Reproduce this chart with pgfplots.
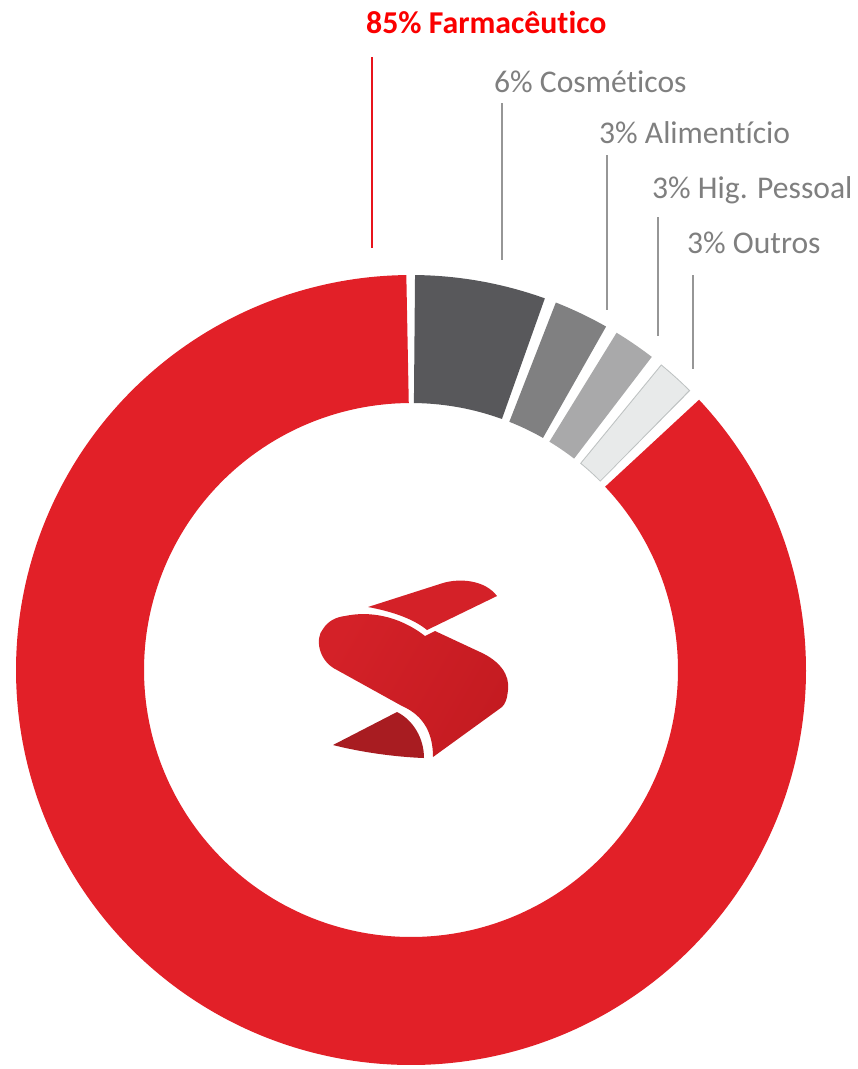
\documentclass[border=0pt]{standalone}
\usepackage{fontspec}
\setmainfont{Carlito}[Ligatures={NoCommon,NoContextual}]
\usepackage{pgfplots}
\pgfplotsset{compat=1.18}
\definecolor{ringred}{RGB}{226,32,40}
\definecolor{cosg}{RGB}{88,88,91}
\definecolor{alig}{RGB}{128,128,129}
\definecolor{higg}{RGB}{169,169,170}
\definecolor{outg}{RGB}{232,234,234}
\definecolor{outb}{RGB}{190,194,194}
\definecolor{labred}{RGB}{250,0,0}
\definecolor{labgray}{RGB}{127,127,127}
\definecolor{linegray}{RGB}{150,150,150}
\definecolor{lineRed}{RGB}{232,20,28}
\definecolor{lgA}{RGB}{212,33,40}
\definecolor{lgB}{RGB}{230,52,46}
\definecolor{lgC}{RGB}{196,27,33}
\definecolor{tailc}{RGB}{168,28,33}
% shares of the circle (percent)
\def\sCos{5.75}
\def\sAli{2.71}
\def\sHig{2.22}
\def\sOut{2.07}
\def\sFar{87.25}
\def\gapH{0.85}
\def\gapT{0.6}
\pgfmathsetmacro\bndA{90-3.6*\sCos}
\pgfmathsetmacro\bndB{\bndA-3.6*\sAli}
\pgfmathsetmacro\bndC{\bndB-3.6*\sHig}
\pgfmathsetmacro\bndD{\bndC-3.6*\sOut}
\pgfmathsetmacro\bndE{\bndD-3.6*\sFar}
\pgfmathsetmacro\farLo{\bndE+\gapT}\pgfmathsetmacro\farHi{\bndD-\gapH}
\pgfmathsetmacro\cosLo{\bndA+\gapH}\pgfmathsetmacro\cosHi{90-\gapT}
\pgfmathsetmacro\aliLo{\bndB+\gapH}\pgfmathsetmacro\aliHi{\bndA-\gapH}
\pgfmathsetmacro\higLo{\bndC+\gapH}\pgfmathsetmacro\higHi{\bndB-\gapH}
\pgfmathsetmacro\outLo{\bndD+\gapH}\pgfmathsetmacro\outHi{\bndC-\gapH}
\pgfmathsetmacro\outLoi{\bndD+\gapH+0.18}\pgfmathsetmacro\outHii{\bndC-\gapH-0.18}
\newcommand{\seg}[5]{%
  \edef\segtmp{\noexpand\addplot[draw=#1, line width=#5, domain=#2:#3, samples=#4, variable=\noexpand\t]}%
  \segtmp ({411+331*cos(t)},{670-331*sin(t)});}
\begin{document}
\begin{tikzpicture}
\path[use as bounding box] (0,0) rectangle (858bp,1069bp);
\begin{axis}[at={(0,0)}, anchor=south west, scale only axis,
  width=858bp, height=1069bp, xmin=0, xmax=858, ymin=0, ymax=1069,
  y dir=reverse, hide axis, clip=false]
\seg{ringred}{\farLo}{\farHi}{361}{128bp}
\seg{cosg}{\cosLo}{\cosHi}{60}{128bp}
\seg{alig}{\aliLo}{\aliHi}{40}{128bp}
\seg{higg}{\higLo}{\higHi}{40}{128bp}
\seg{outb}{\outLo}{\outHi}{40}{128bp}
\seg{outg}{\outLoi}{\outHii}{40}{126bp}
% leader lines
\draw[lineRed, line width=1.3bp] (axis cs:372,57) -- (axis cs:372,248);
\draw[linegray, line width=1.3bp] (axis cs:502,103) -- (axis cs:502,260);
\draw[linegray, line width=1.3bp] (axis cs:607,155) -- (axis cs:607,310);
\draw[linegray, line width=1.3bp] (axis cs:658,217) -- (axis cs:658,336);
\draw[linegray, line width=1.3bp] (axis cs:693,275) -- (axis cs:693,369);
% labels
\node[anchor=base west, inner sep=0, text=labred, font=\fontsize{31.8bp}{38bp}\bfseries\selectfont] at (axis cs:366,33) {85\% Farmacêutico};
\node[anchor=base west, inner sep=0, text=labgray, font=\fontsize{31.6bp}{38bp}\selectfont] at (axis cs:494,92) {6\% Cosméticos};
\node[anchor=base west, inner sep=0, text=labgray, font=\fontsize{31.6bp}{38bp}\selectfont] at (axis cs:599,143) {3\% Alimentício};
\node[anchor=base west, inner sep=0, text=labgray, font=\fontsize{31.6bp}{38bp}\selectfont] at (axis cs:652,198) {3\% Hig. Pessoal};
\node[anchor=base west, inner sep=0, text=labgray, font=\fontsize{31.6bp}{38bp}\selectfont] at (axis cs:687,253) {3\% Outros};
% logo
\fill[lgA] (axis cs:368,607) -- (axis cs:443,583) .. controls (axis cs:460,578) and (axis cs:485,580) .. (axis cs:497,596) -- (axis cs:427,630) .. controls (axis cs:415,620) and (axis cs:395,612) .. (axis cs:368,607) -- cycle;
\shade[left color=lgA, middle color=lgB, right color=lgC, shading angle=60] (axis cs:345,616) .. controls (axis cs:368,611) and (axis cs:398,615) .. (axis cs:425,636) -- (axis cs:435,631) -- (axis cs:480,652) .. controls (axis cs:500,661) and (axis cs:510,675) .. (axis cs:508,690) .. controls (axis cs:507,700) and (axis cs:505,704) .. (axis cs:502,707) -- (axis cs:433,757) .. controls (axis cs:433,735) and (axis cs:425,716) .. (axis cs:402,706) -- (axis cs:337,670) .. controls (axis cs:318,661) and (axis cs:315,638) .. (axis cs:323,629) .. controls (axis cs:328,621) and (axis cs:336,617) .. (axis cs:345,616) -- cycle;
\fill[tailc] (axis cs:333,745) -- (axis cs:397,712) .. controls (axis cs:413,720) and (axis cs:424,738) .. (axis cs:424,758) .. controls (axis cs:395,757) and (axis cs:360,752) .. (axis cs:333,745) -- cycle;
\end{axis}
\end{tikzpicture}
\end{document}
